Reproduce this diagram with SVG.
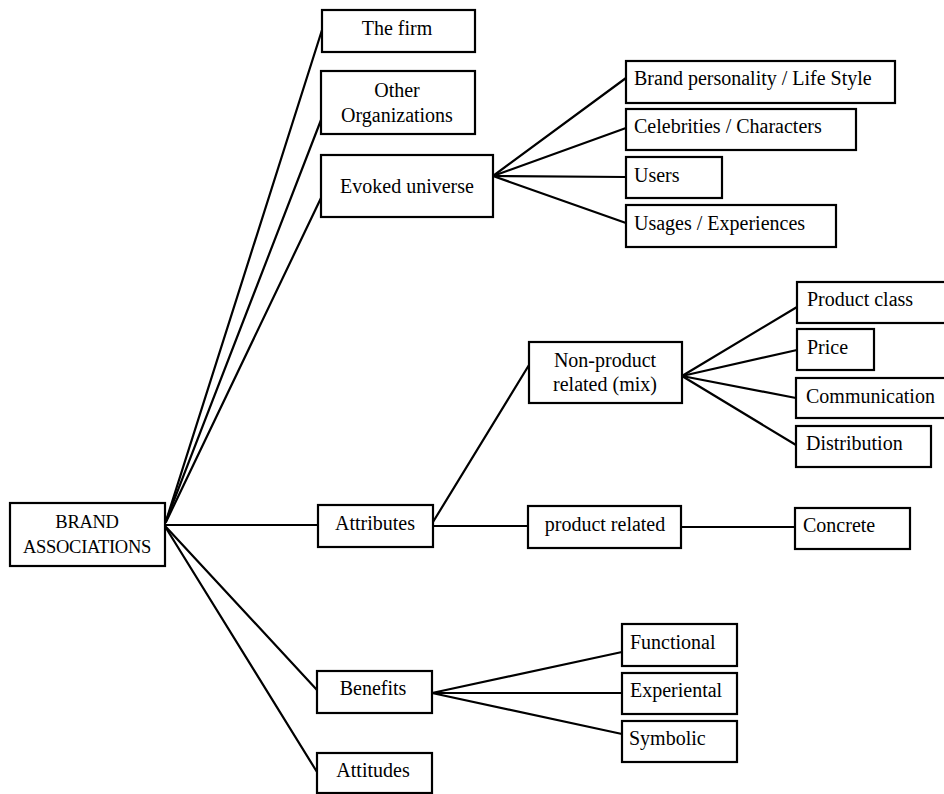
<svg xmlns="http://www.w3.org/2000/svg" width="944" height="794" viewBox="0 0 944 794">
<style>
rect{fill:#fff;stroke:#000;stroke-width:2.2}
text{font-family:"Liberation Serif","Times New Roman",serif;font-size:20px;fill:#000}
.c{text-anchor:middle}
.s{font-size:18.5px;letter-spacing:-0.3px}
#edges line{stroke:#000;stroke-width:2.2;stroke-linecap:round}
</style>
<rect x="0" y="0" width="944" height="794" style="fill:#fff;stroke:none"/>
<g id="edges">
<line x1="166" y1="521" x2="322" y2="30"/>
<line x1="166" y1="521" x2="321" y2="120"/>
<line x1="166" y1="522" x2="321" y2="198"/>
<line x1="166" y1="525" x2="318" y2="525"/>
<line x1="166" y1="527" x2="317" y2="690"/>
<line x1="166" y1="528" x2="317" y2="772"/>
<line x1="493" y1="176" x2="626" y2="78"/>
<line x1="493" y1="176" x2="626" y2="128"/>
<line x1="493" y1="176" x2="626" y2="177"/>
<line x1="493" y1="176" x2="626" y2="223"/>
<line x1="433" y1="522" x2="529" y2="365"/>
<line x1="433" y1="526" x2="528" y2="526"/>
<line x1="681" y1="527" x2="795" y2="527"/>
<line x1="682" y1="376" x2="797" y2="307"/>
<line x1="682" y1="376" x2="797" y2="350"/>
<line x1="682" y1="376" x2="796" y2="398"/>
<line x1="682" y1="376" x2="796" y2="445"/>
<line x1="432" y1="693" x2="622" y2="652"/>
<line x1="432" y1="693" x2="622" y2="693"/>
<line x1="432" y1="693" x2="622" y2="734"/>
</g>
<g id="brand-associations"><rect x="10" y="503" width="155" height="63"/><text class="c s" x="87" y="528">BRAND</text><text class="c s" x="87" y="553">ASSOCIATIONS</text></g>
<g id="the-firm"><rect x="322" y="10" width="153" height="42"/><text class="c" x="397" y="35">The firm</text></g>
<g id="other-organizations"><rect x="321" y="71" width="154" height="63"/><text class="c" x="397" y="97">Other</text><text class="c" x="397" y="122">Organizations</text></g>
<g id="evoked-universe"><rect x="321" y="155" width="172" height="62"/><text class="c" x="407" y="193">Evoked universe</text></g>
<g id="brand-personality"><rect x="626" y="61" width="269" height="42"/><text x="634" y="85">Brand personality / Life Style</text></g>
<g id="celebrities"><rect x="626" y="109" width="230" height="41"/><text x="634" y="133">Celebrities / Characters</text></g>
<g id="users"><rect x="626" y="157" width="96" height="41"/><text x="634" y="182">Users</text></g>
<g id="usages"><rect x="626" y="205" width="210" height="42"/><text x="634" y="230">Usages / Experiences</text></g>
<g id="attributes"><rect x="318" y="505" width="115" height="42"/><text class="c" x="375" y="530">Attributes</text></g>
<g id="non-product"><rect x="529" y="342" width="153" height="61"/><text class="c" x="605" y="367">Non-product</text><text class="c" x="605" y="391">related (mix)</text></g>
<g id="product-related"><rect x="528" y="506" width="153" height="42"/><text class="c" x="605" y="531">product related</text></g>
<g id="product-class"><rect x="797" y="282" width="160" height="41"/><text x="807" y="306">Product class</text></g>
<g id="price"><rect x="797" y="329" width="77" height="41"/><text x="807" y="354">Price</text></g>
<g id="communication"><rect x="796" y="378" width="160" height="40"/><text x="806" y="403">Communication</text></g>
<g id="distribution"><rect x="796" y="426" width="135" height="41"/><text x="806" y="450">Distribution</text></g>
<g id="concrete"><rect x="795" y="508" width="115" height="41"/><text x="803" y="532">Concrete</text></g>
<g id="benefits"><rect x="317" y="671" width="115" height="42"/><text class="c" x="373" y="695">Benefits</text></g>
<g id="attitudes"><rect x="317" y="753" width="115" height="40"/><text class="c" x="373" y="777">Attitudes</text></g>
<g id="functional"><rect x="622" y="624" width="115" height="42"/><text x="630" y="649">Functional</text></g>
<g id="experiental"><rect x="622" y="673" width="115" height="41"/><text x="630" y="697">Experiental</text></g>
<g id="symbolic"><rect x="622" y="721" width="115" height="41"/><text x="629" y="745">Symbolic</text></g>
</svg>
